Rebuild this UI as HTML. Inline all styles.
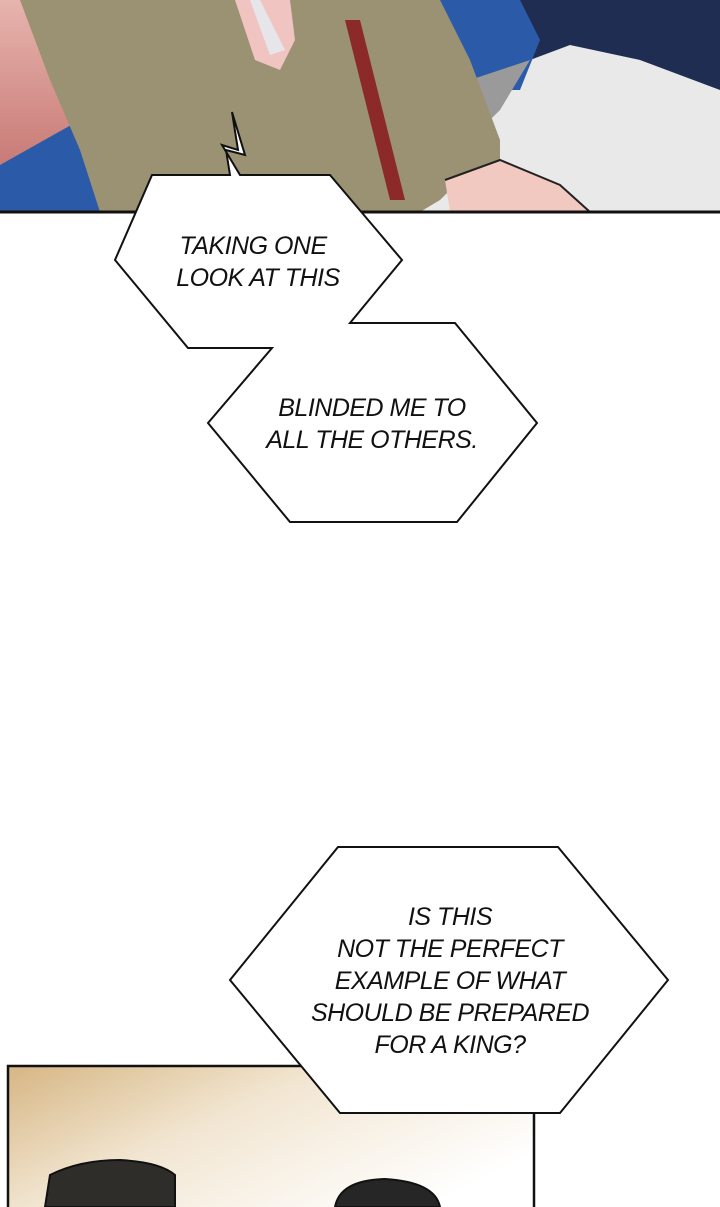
<!DOCTYPE html>
<html><head><meta charset="utf-8"><style>
html,body{margin:0;padding:0;background:#fff;}
svg{display:block;}
text{font-family:"Liberation Sans",sans-serif;font-style:italic;font-size:25px;fill:#111;text-anchor:middle;letter-spacing:-0.5px;}
</style></head><body>
<svg width="720" height="1207" viewBox="0 0 720 1207" xmlns="http://www.w3.org/2000/svg">
<defs>
<linearGradient id="bg2" x1="0" y1="0" x2="1" y2="0.6">
<stop offset="0" stop-color="#d6b684"/><stop offset="0.45" stop-color="#f2e6d2"/><stop offset="1" stop-color="#ffffff"/>
</linearGradient>
<linearGradient id="red" x1="0" y1="0" x2="0" y2="1">
<stop offset="0" stop-color="#e7b4ae"/><stop offset="1" stop-color="#c06a66"/>
</linearGradient>
</defs>
<!-- top panel -->
<rect x="0" y="0" width="720" height="212" fill="#e9e9e9"/>
<rect x="0" y="0" width="120" height="212" fill="url(#red)"/>
<polygon points="0,165 80,120 120,212 0,212" fill="#2a5aa8"/>
<polygon points="430,0 720,0 720,90 640,60 570,45 530,60" fill="#1f2d52"/>
<polygon points="440,0 520,0 540,40 520,90 470,90" fill="#2a5aa8"/>
<polygon points="470,80 530,60 500,110 480,130" fill="#9a9a9a"/>
<polygon points="20,0 440,0 470,60 500,140 500,175 460,180 440,200 420,212 100,212 80,150 50,80" fill="#9a9272"/>
<polygon points="345,20 360,20 405,200 390,200" fill="#8c2a2a"/>
<polygon points="235,0 290,0 295,40 280,70 255,60" fill="#f0c4c0"/>
<polygon points="250,0 260,0 285,50 270,55" fill="#e6e6ea"/>
<polygon points="445,180 500,160 560,185 590,212 450,212" fill="#f2c9c0"/>
<polyline points="445,180 500,160 560,185 590,212" fill="none" stroke="#222" stroke-width="2"/>
<line x1="0" y1="212" x2="720" y2="212" stroke="#111" stroke-width="3"/>
<!-- bubble 1+2 -->
<polygon points="152,175 230,175 226,150 245,155 232,112 238,150 222,145 240,175 330,175 402,260 350,323 455,323 537,423 457,522 290,522 208,423 272,348 188,348 115,260" fill="#fff" stroke="#111" stroke-width="2" stroke-linejoin="miter"/>
<text x="253" y="254">TAKING ONE</text>
<text x="258" y="286">LOOK AT THIS</text>
<text x="372" y="416">BLINDED ME TO</text>
<text x="372" y="448">ALL THE OTHERS.</text>
<!-- bottom panel -->
<rect x="8" y="1066" width="526" height="150" fill="url(#bg2)" stroke="#111" stroke-width="2.5"/>
<path d="M45,1207 L50,1175 Q80,1160 120,1160 Q160,1162 175,1175 L175,1207 Z" fill="#2f2d2a" stroke="#111" stroke-width="2"/>
<path d="M335,1207 Q340,1180 385,1179 Q435,1182 440,1207 Z" fill="#262626" stroke="#111" stroke-width="2"/>
<!-- bubble 3 -->
<polygon points="338,847 558,847 668,980 560,1113 340,1113 230,980" fill="#fff" stroke="#111" stroke-width="2"/>
<text x="450" y="925">IS THIS</text>
<text x="450" y="957">NOT THE PERFECT</text>
<text x="450" y="989">EXAMPLE OF WHAT</text>
<text x="450" y="1021">SHOULD BE PREPARED</text>
<text x="450" y="1053">FOR A KING?</text>
</svg>
</body></html>
